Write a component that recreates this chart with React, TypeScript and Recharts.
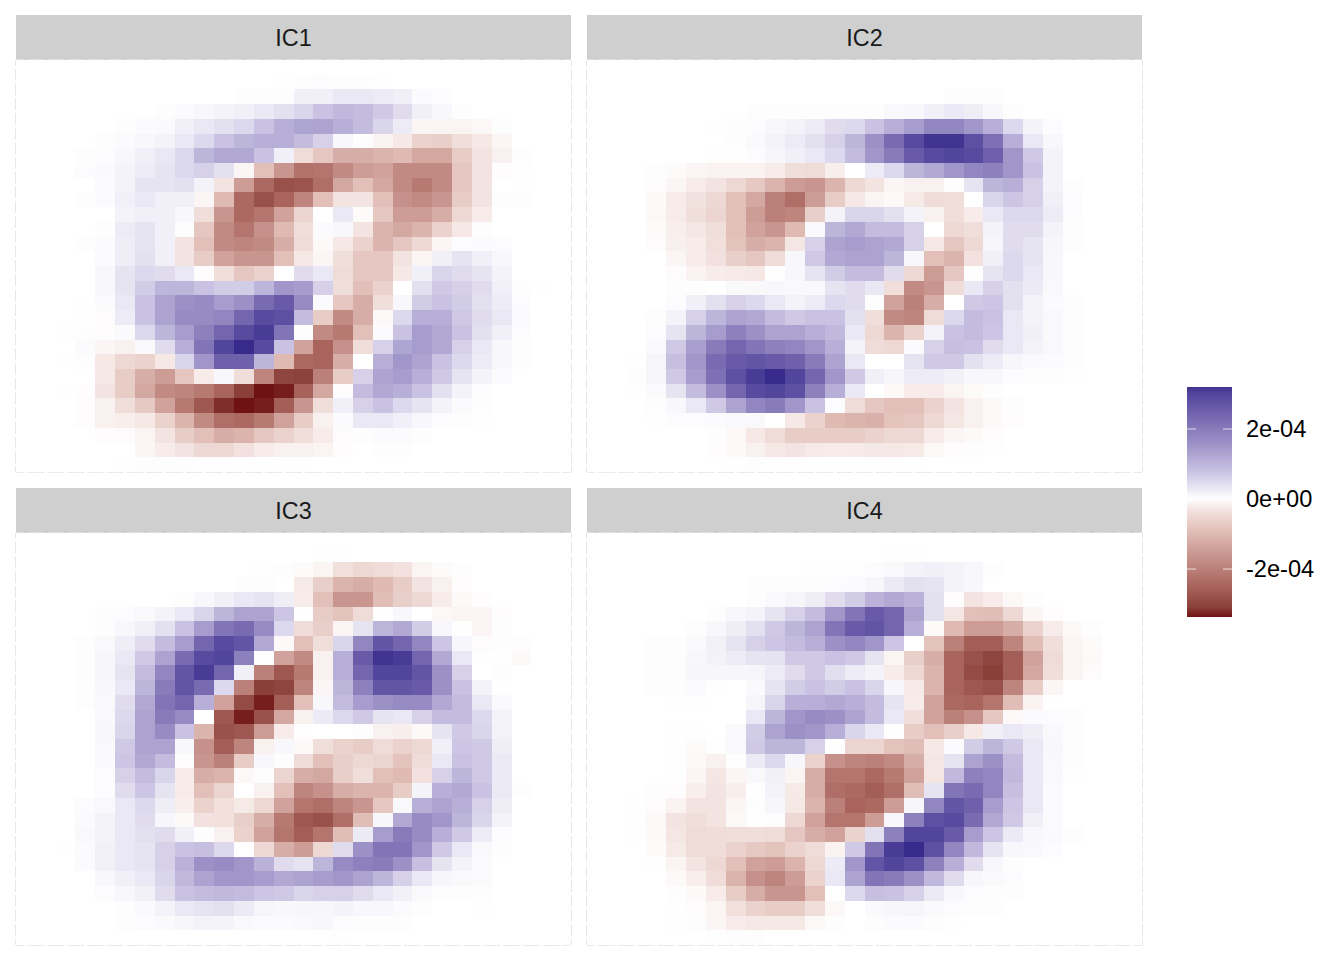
import React from "react";
import {
  ScatterChart,
  Scatter,
  XAxis,
  YAxis,
  ReferenceLine,
  ReferenceArea,
} from "recharts";

// all values in units of 1e-5
const BLANK = [0,0,0,0,0,0,0, 0,0,0,0,0,0,0, 0,0,0,0,0,0,0, 0,0,0,0,0,0,0];

const ic1 = [
  BLANK,
  [0,0,0,0,0,0,0, 0,0,0,0,0,0,.1, .3,.4,.3,.3,.1,0,0, 0,0,0,0,0,0,0],
  [0,0,0,0,0,0,0, 0,0,0,0,.3,.3,.3, 2,2,3,3,2.5,2,.6, .4,0,0,0,0,0,0],
  [0,0,0,0,0,0,0, .2,.5,1,1.5,2,3,4, 5.5,8,9.5,9,7,4.5,2, 1,.2,0,0,0,0,0],
  [0,0,0,0,0,.3,.5, .7,2,3,4,5,8,11, 12.5,13,11,9,5.5,2.5,-1, -1.2,-1.2,-.8,-.2,0,0,0],
  [0,0,0,0,.3,.5,1, 1.5,3,5,8,10,11,11, 9,6,1,.2,-1.3,-2.5,-6, -6.5,-4,-2.5,-1,0,0,0],
  [0,0,0,.3,.4,1,2, 3,5,10,12,12,8,2, -4.5,-8,-12,-12,-11,-10,-13, -13,-7,-3,-1.5,-.2,0,0],
  [0,0,0,.4,.7,1.5,2.5, 3.5,5,6,4,-1,-9,-16, -22.5,-22,-18,-15,-14,-18,-18, -18,-8,-3,-.3,-.1,0,0],
  [0,0,0,0,.5,1.5,3.5, 3.5,4,1.5,-3,-15,-24,-28, -27.5,-23,-13,-9,-13,-18,-21, -18,-8,-3,0,.1,0,0],
  [0,0,0,.2,.5,2,3, 2,2,-1,-10,-24,-28,-25, -19,-9,-3,-3,-9,-17,-18, -16,-7,-3,.2,.2,0,0],
  [0,0,0,0,0,1.5,2, 2,1,-4,-16,-24,-22,-14, -5.5,0,3,-.5,-8,-15,-15, -12,-5,-2,0,0,0,0],
  [0,0,0,0,.3,2.5,3.5, 2,-.2,-8,-18,-22,-17,-10, -4,.5,1,-3,-11,-13,-11, -6,-2.5,-.2,0,0,0,0],
  [0,0,0,.2,.5,2.3,3.5, 2,-3,-9,-18,-19,-18,-12, -4.5,-.7,-2.5,-6,-11,-8,-5, -1,.4,.5,.4,0,0,0],
  [0,0,0,0,.5,2.3,4, 2,-3,-7,-14,-16,-16,-9, -2.5,-1,-4,-8,-8,-3,-1, 2,3.5,2,1,0,0,0],
  [0,0,0,0,1,3.5,5, 4.5,3,-.3,-4,-8,-6,0, 4.5,3,-4.5,-8,-8,-2.5,2, 5.5,4.5,3.5,1.5,0,0,0],
  [0,0,0,0,1,3.5,6.5, 10,10,8,6.5,6.5,10,15, 14,6,-4,-9,-6,0,4, 7,6,4.5,2,.3,.1,0],
  [0,0,0,.1,.5,3,8, 13,16,17,14,16,23,26, 17,.5,-8,-12,-4,1,6.5, 8,6.5,4,2.5,.4,0,0],
  [0,0,0,.1,-.4,2.5,8, 13,17,17,18,24,29,28, 9,-7,-18,-12,-.8,5,11, 11,7,4.5,3,.6,0,0],
  [0,0,.1,.2,-.3,.7,5, 10,14,19,24,29,31,21, -.2,-18,-21,-9,.5,8,14, 12,8,4,2,.4,0,0],
  [0,0,0,.5,-1,-1.5,.7, 4.5,11,21,30,33,29,8, -14,-25,-17,-4,6,12.5,14, 12,6,3,1,.3,0,0],
  [0,0,.1,.3,-2.5,-5,-6, -2.5,5.5,15,25,25,10,-10, -24,-25,-12,0,11,15,13, 8,5,2.5,1,.3,0,0],
  [0,0,0,0,-2.5,-7,-12, -15,-8,-2,1,-4,-19,-30, -30.5,-20,-7,6,13,14,11, 7,3.5,1.5,.6,0,0,0],
  [0,0,.1,-.3,-3,-7,-13, -18,-19,-21,-25,-31,-34,-33, -25.5,-13,-.3,9,12,11,8, 4,1.5,.4,0,0,0,0],
  [0,0,0,-.3,-1.5,-4,-7.5, -14,-21,-27,-32,-34,-33,-26, -16,-4,2,6,8,5,3.5, 1.5,.5,.3,0,0,0,0],
  [0,0,0,-.3,-1.5,-1.8,-2.5, -6,-11,-18,-23,-24,-21,-14, -7,-1.5,.5,3,3,2,1, .4,.2,.1,0,0,0,0],
  [0,0,0,0,-.3,-.4,-1.2, -3,-7,-9,-12,-11,-8,-6, -4,-2,-.4,.2,.5,.6,.2, 0,0,0,0,0,0,0],
  [0,0,0,0,0,0,-1, -2,-3,-5,-5,-3.5,-2,-1.5, -1.5,-1.2,-.3,0,.3,.3,0, 0,0,0,0,0,0,0],
  [0,0,0,0,0,-.1,-.2, -.2,-.2,-.1,-.1,-.1,-.1,-.1, -.1,0,0,0,0,0,0, 0,0,0,0,0,0,0],
];

const ic2 = [
  BLANK,
  BLANK,
  [0,0,0,0,0,0,0, 0,0,0,0,0,0,0, 0,0,0,0,.3,.3,.3, 0,0,0,0,0,0,0],
  [0,0,0,0,0,0,0, 0,.2,.3,.3,.3,.3,.3, .3,.8,1,2,2.8,2.3,1, .3,0,0,0,0,0,0],
  [0,0,0,0,0,0,.1, .3,.4,1,1.5,2.5,4.5,5, 8,11,14,18,18,15,11, 5,1.5,.4,0,0,0,0],
  [0,0,0,0,0,0,0, .3,.7,1.5,2.5,4,6,10, 16,23,29,32,32,28,22, 11,3,1,0,0,0,0],
  [0,0,0,0,0,0,-.1, .1,.4,1.2,2,3,5,9, 15,20,26,29,30,29,25, 15,7,1.5,0,0,0,0],
  [0,0,0,-.2,-.5,-1,-1.3, -1.3,-1.3,-2,-4,-4.5,-1.7,0, 2.5,5,10,12,15,18,19, 15,8,1.5,0,0,0,0],
  [0,0,0,-.3,-1,-2,-3, -5,-7.5,-11,-15,-16,-11,-5, -3,-1,-1.5,-1.5,.2,3.5,10, 11,6,1.5,.3,0,0,0],
  [0,0,0,-.7,-2,-3.3,-5, -9,-13,-20,-23,-15,-7,-2.5, -1.2,-.7,-2.3,-4.5,-4,0,5.5, 7.5,6,2,.4,0,0,0],
  [0,0,0,-.8,-2,-4,-5.5, -9,-15,-20,-19,-6.5,1.5,5.5, 5.5,4,1.5,-1.5,-4,-2,3, 5,5,2.5,.4,0,0,0],
  [0,0,0,-.5,-1.7,-2.7,-4, -9,-14,-16,-10,.8,10,12, 9,9,6,0,-5,-4,1.5, 4.5,4.5,1.5,.3,0,0,0],
  [0,0,0,-.4,-1.6,-2,-3.8, -8.5,-12,-11,-2.7,6,13,14, 13,12,6,-2.5,-8,-5,1.2, 4.5,3.5,1.2,.2,0,0,0],
  [0,0,0,0,-1,-2,-3.5, -6.5,-8,-4.5,1,7,12,13, 13,10,1,-9,-11,-3.5,2, 5,3.5,1,0,0,0,0],
  [0,0,0,0,-.4,-1.3,-2, -2.3,-2.5,-.1,1,3.5,6.5,9, 9,4.5,-5,-15,-8,-.1,3.5, 5,3,1,0,0,0,0],
  [0,0,0,0,-.2,-.2,0, .8,.8,1,.8,.8,3.5,4.5, 3,-4,-18,-16,-4.5,3,6, 4,2.5,.8,0,0,0,0],
  [0,0,0,0,.4,2,4, 6,5,3,1.5,2.5,5,4.5, -.2,-14,-20,-12,0,7,7.5, 4,1.5,.6,.3,0,0,0],
  [0,0,0,.3,1.5,6,10, 13,12,9,7,8,8,4, -4,-18,-19,-4.5,5,9,8, 3,1.5,.8,.3,0,0,0],
  [0,0,0,.4,3.5,10,14, 19,16,13,13,11,9.5,3, -5,-11,-6,1.5,8,9,7.5, 3,2,.8,.3,0,0,0],
  [0,0,0,.8,7,13.5,20, 24,21,19,18,15,11,1.5, -4.5,-5,.6,6,8.5,8,4.5, 3,1.5,.8,.3,0,0,0],
  [0,0,.1,1.3,8.5,15,23, 26,27,26,25,20,13,3, 0,0,3.5,7,7,4,2.5, 1.2,.7,.6,.2,0,0,0],
  [0,0,.2,1.3,7,14,22, 28,31,33,30,24,15,7, 2,1.2,2.5,2.5,1.8,1,1, .4,.3,.2,.1,0,0,0],
  [0,0,.1,.6,3.5,9,16, 24,29,30,28,19,11,3, 0,-.7,-2,-2,-1.2,-.5,-.2, 0,0,0,0,0,0,0],
  [0,0,0,.2,1,3,7, 13,18,20,15,8,.4,-4.5, -8,-9,-9,-6,-3,-1.5,-.6, -.2,0,0,0,0,0,0],
  [0,0,0,.1,.4,.4,.5, .8,.8,0,-2.5,-6,-10,-11, -11.5,-8.5,-8,-5,-2.7,-1.5,-.7, -.3,0,0,0,0,0,0],
  [0,0,0,0,0,0,-.2, -.8,-2.5,-4.5,-7,-7,-7,-7, -6,-5,-5,-2,-1,-.6,-.3, 0,0,0,0,0,0,0],
  [0,0,0,0,0,0,-.3, -.7,-1.5,-2.5,-3,-2.3,-2,-2.2, -2.4,-2.5,-2.3,-.8,-.3,-.2,-.1, 0,0,0,0,0,0,0],
  [0,0,0,0,0,0,0, -.1,-.2,-.1,-.1,-.1,-.1,-.1, -.1,-.1,-.1,0,0,0,0, 0,0,0,0,0,0,0],
];

const ic3 = [
  BLANK,
  [0,0,0,0,0,0,0, 0,0,0,0,0,0,0, 0,-.1,-.1,0,0,0,0, 0,0,0,0,0,0,0],
  [0,0,0,0,0,0,0, 0,0,0,0,0,-.1,-.2, -.5,-1.2,-3.8,-5,-4.5,-3.5,-1.2, -.5,-.2,0,0,0,0,0],
  [0,0,0,0,0,0,0, 0,0,0,0,.2,.2,0, -2.3,-6.5,-11,-12,-10,-7,-3, -1.5,-.3,0,0,0,0,0],
  [0,0,0,0,0,0,0, 0,.2,1,2,3,3.5,2.2, -2,-9,-16,-16,-9.5,-6.5,-5, -2,-.7,-.3,0,0,0,0],
  [0,0,0,0,.3,.4,.8, 1.5,3,5.5,10,13,13,7.5, -.1,-7,-8.5,-4.5,-.1,1,0, -.8,-1.2,-1,-.3,0,0,0],
  [0,0,0,0,.3,1,2, 4,8,14,21,23,17,5, -4.5,-6.5,-1,3.5,10,12,6.5, 1,-.1,-1,-.2,0,0,0],
  [0,0,0,.2,.8,2.3,4.5, 9,14,24,29,27,12,-.6, -9,-4,5.5,18,27,24,18, 7.5,1.2,-.4,-.2,-.2,0,0],
  [0,0,0,.3,1.2,3,7, 13,23,29,30,19,.1,-14, -18,-1.5,11,26,32,31,24, 12,3,-.1,-.1,-.6,0,0],
  [0,0,0,.3,1.2,3.5,9, 18,27,31,24,2,-20,-27, -21,-1.5,11,24,30,30,27, 16,6,0,-.2,0,0,0],
  [0,0,0,.2,1,3,10, 20,27,23,5,-20,-31,-30, -19,-1,10,19,27,27,26, 16,8,1.5,-.1,0,0,0],
  [0,0,0,.2,.8,4.5,12, 21,24,11,-14,-29,-33,-26, -9,1,9,14,16,17,17, 12,9,3,.7,0,0,0],
  [0,0,0,0,.8,5,13, 20,17,0,-27,-33,-28,-13, -1.5,2.7,5,7,3.5,3,6, 9,9,5,1.5,0,0,0],
  [0,0,0,0,1,5.5,13, 17,8,-11,-28,-27,-15,-2, -.1,0,0,-.2,-1.5,-1.7,-.6, 3.5,7,5.5,1.7,0,0,0],
  [0,0,0,0,.8,7,13, 13,1,-17,-26,-19,-1.5,1, -.7,-4,-6,-7,-4.5,-6,-5, 2,7.5,7,2.3,0,0,0],
  [0,0,0,0,.7,7.5,12, 9,-.3,-16,-20,-7,1,-.2, -4.5,-9,-6.5,-5,-5.5,-8.5,-4.5, 3,8,7,2.7,0,0,0],
  [0,0,0,0,.4,6,9, 5.5,-2,-12,-11,-.8,.3,-5.5, -12,-13,-6.5,-4,-9,-10,-3.5, 6,10,7,2.7,0,0,0],
  [0,0,0,0,.4,4.5,7.5, 3.5,-2,-9,-5.5,0,-1.5,-9, -19,-17,-12,-11,-11,-7,1.5, 11,12,8,2.7,.2,0,0],
  [0,0,0,.4,.8,3,5, 2.3,-1.7,-6,-3.7,-2.3,-5,-14, -22,-23,-19,-16,-8,.8,11, 13,11,6,2.3,0,0,0],
  [0,0,0,.5,1.5,3,4.5, 1.2,-.7,-3.5,-3.7,-6.5,-12,-21, -27,-28,-23,-9.5,1.2,12,17, 15,10,5.5,1.5,0,0,0],
  [0,0,0,.8,1.5,3,4, 4.5,2,.3,-1.5,-6,-14,-22, -26,-22,-9.5,2.7,14,20,17, 11,7,2.5,.4,0,0,0],
  [0,0,.1,.5,1.8,3,3.5, 6,8,8.5,5,0,-5,-12, -15,-5,4.5,16,21,21,15, 7,3,.8,.3,0,0,0],
  [0,0,0,.5,1.8,3,3.5, 6,10.5,16,17,15,10.5,4.5, 3.5,10,17,19,20,16,8.5, 3.5,1.5,.5,0,0,0,0],
  [0,0,0,0,1,2,3, 5.5,9.5,13,15,15,14,12, 13,14,15,13,10,6,3, 1.2,.8,.6,0,0,0,0],
  [0,0,0,0,.4,1,1.8, 4.5,8,9,9.5,9,7.5,7, 5.5,6,6,4.5,3,1.8,.8, .3,.2,.2,0,0,0,0],
  [0,0,0,0,0,.3,.7, 1.5,3,3.5,4,2.7,1.3,1, 1.2,1.2,1.5,1,1,.6,.3, 0,0,.1,0,0,0,0],
  [0,0,0,0,0,.2,.4, .7,1.2,1.7,1.5,.8,.6,.6, .9,1,.4,.3,.3,.2,0, 0,0,0,0,0,0,0],
  [0,0,0,0,0,0,0, 0,0,0,0,0,0,0, 0,0,.1,0,0,0,0, 0,0,0,0,0,0,0],
];

const ic4 = [
  BLANK,
  [0,0,0,0,0,0,0, 0,0,0,0,0,0,0, 0,.1,.1,0,0,0,0, 0,0,0,0,0,0,0],
  [0,0,0,0,0,0,0, 0,0,0,0,.1,.1,.1, .4,.8,1.5,2,1.5,1,.3, 0,0,0,0,0,0,0],
  [0,0,0,0,0,0,0, 0,.2,.3,.3,.3,.4,.5, 1.2,2.7,4,3.5,1.5,1,0, 0,0,0,0,0,0,0],
  [0,0,0,0,0,0,0, 0,.3,.7,1.3,2.3,4.5,6.5, 10.5,12,10.5,4,-.3,-3,-2, -.8,-.2,0,0,0,0,0],
  [0,0,0,0,0,0,.3, 1,1.5,3.5,6,9,15,21, 26,24,13,4,-2.7,-9,-9.5, -5,-1,-.3,0,0,0,0],
  [0,0,0,0,0,.2,1, 2.3,4,7,10,13,21,26, 27,24,11,-.5,-10,-15,-15, -12,-6,-2,-.7,-.2,0,0],
  [0,0,0,.2,.3,.7,1.8, 3.5,6,7.5,9,11,16,18, 15,7.5,0,-8.5,-20,-26,-26, -19,-9.5,-4,-1,-.5,0,0],
  [0,0,0,.2,.3,1,1.7, 2.5,3.5,3.8,7,7,8,7, 3.5,-1.2,-6.5,-12,-25,-28,-30, -26,-14,-4.5,-1.2,-.7,0,0],
  [0,0,0,.3,.3,1.2,1.2, 1.2,1.3,2.5,4.5,7,4.3,2.5, 1.5,-2,-5,-11,-25,-29,-31, -26,-13,-4,-1.2,-.4,0,0],
  [0,0,0,.2,.2,.5,-.1, 0,.7,3.5,6.5,8,6.5,8, 5.5,1.2,-2.3,-11,-25,-27,-28, -19,-7,-1,0,0,0,0],
  [0,0,0,0,.1,.1,0, 0,1.3,5.5,11,11,12,11, 9,3.5,-2,-14,-24,-25,-22, -9.5,-1.3,.1,0,0,0,0],
  [0,0,0,0,0,0,0, 0,3,10,15,17,16,13, 9,3,-4,-14,-20,-17,-8, -.8,.6,.4,.2,0,0,0],
  [0,0,0,0,-.1,-.1,0, .8,6.5,13,16,15,11,5.5, 3,-.1,-7,-9,-6.5,-2.5,2, 3,2.3,.8,.2,0,0,0],
  [0,0,0,0,-.1,-.5,-.1, .9,7,10,10,6,-.1,-5.5, -5.5,-8.5,-9.5,-2.5,.5,6.5,10, 7,3,1,.2,0,0,0],
  [0,0,0,0,-.1,-.6,-1.5, -.1,2.7,5,1.2,-6,-17,-19, -20,-18,-12,-2.7,3.5,13,16, 9,3,.8,.2,0,0,0],
  [0,0,0,0,-.1,-1,-2.7, -1,.8,2,-1.2,-12,-22,-22, -24,-21,-14,-2.7,9.5,19,18, 9.5,3,.8,.1,0,0,0],
  [0,0,0,-.2,-.3,-1.7,-3, -1.7,.1,1.5,-2.3,-12,-23,-24, -26,-23,-9.5,3.5,21,23,18, 8.5,3,.6,0,0,0,0],
  [0,0,-.1,-.4,-1.3,-3,-3, -1,.3,1.2,-2.4,-11,-20,-25, -24,-15,1.2,18,27,25,14, 7.5,3,.6,0,0,0,0],
  [0,0,-.1,-.8,-3,-4,-3, -.8,-.1,.2,-5,-14,-22,-22, -15,1,19,28,29,23,12, 7,2,.5,0,0,0,0],
  [0,0,-.1,-.7,-2.7,-4.5,-4.3, -4,-4,-4.5,-8,-12,-14,-6, 4,19,30,30,26,14,7.5, 2.7,1,.7,.3,0,0,0],
  [0,0,0,-.5,-2.3,-4.5,-4.3, -6,-7.5,-8.5,-6,-4.5,-1.3,7, 21,31,33,28,18,9.5,3.5, 1,.8,.4,0,0,0,0],
  [0,0,0,-.1,-1.2,-3,-5, -9,-14,-15,-11,-5,2.5,15, 27,30,28,19,11,4.5,1.2, .3,0,0,0,0,0,0],
  [0,0,0,0,-.6,-1.7,-4.3, -11,-17,-19,-15,-6,3,13, 21,20,16,9.5,4.5,1.2,.7, .4,0,0,0,0,0,0],
  [0,0,0,0,-.2,-.6,-2, -7,-12,-16,-16,-9,0,5, 8.5,8,6,2.7,1,.4,.3, .2,0,0,0,0,0,0],
  [0,0,0,0,-.1,-.4,-1.2, -3.8,-6,-7,-7,-4,-.8,0, .7,1.2,1.3,.7,.4,.3,.2, 0,0,0,0,0,0,0],
  [0,0,0,0,-.1,-.2,-1, -2,-2.5,-2.5,-2.5,-.8,-.2,0, .3,.6,.6,.3,.1,0,0, 0,0,0,0,0,0,0],
  [0,0,0,0,0,0,-.1, -.2,-.2,0,0,0,0,0, 0,0,0,0,0,0,0, 0,0,0,0,0,0,0],
];

const legendTicks = [20, 0, -20];
const legendLabels: Record<number, string> = { 20: "2e-04", 0: "0e+00", "-20": "-2e-04" };

const GRID = 28;
const PANEL_W = 555;
const PANEL_H = 412;
const CELL_W = PANEL_W / GRID;
const CELL_H = PANEL_H / GRID;
const FONT = '"Liberation Sans", Arial, sans-serif';
const LIMIT = 33.7;
const LEGEND_TOP = 32;
const LEGEND_BOTTOM = -33.7;

const blueStops: [number, number[]][] = [
  [0, [255, 255, 255]],
  [0.08, [236, 234, 245]],
  [0.22, [204, 198, 228]],
  [0.445, [160, 150, 201]],
  [0.74, [111, 96, 172]],
  [0.89, [82, 69, 156]],
  [1, [50, 36, 134]],
];
const redStops: [number, number[]][] = [
  [0, [255, 255, 255]],
  [0.08, [244, 230, 227]],
  [0.24, [229, 197, 191]],
  [0.445, [204, 156, 149]],
  [0.74, [168, 100, 93]],
  [0.92, [138, 63, 57]],
  [1, [111, 18, 22]],
];

const colorFor = (v: number) => {
  const stops = v >= 0 ? blueStops : redStops;
  const t = Math.min(Math.abs(v) / LIMIT, 1);
  let i = 1;
  while (i < stops.length - 1 && stops[i][0] < t) i++;
  const [t0, c0] = stops[i - 1];
  const [t1, c1] = stops[i];
  const k = (t - t0) / (t1 - t0);
  const c = c0.map((a, j) => Math.round(a + (c1[j] - a) * k));
  return `rgb(${c[0]},${c[1]},${c[2]})`;
};

const HeatCell = (props: any) => {
  const { cx, cy, payload } = props;
  return (
    <rect
      x={cx - CELL_W / 2}
      y={cy - CELL_H / 2}
      width={CELL_W}
      height={CELL_H}
      fill={colorFor(payload.value)}
      shapeRendering="crispEdges"
    />
  );
};

const borderProps = { stroke: "#e3e3e3", strokeWidth: 1.7, ifOverflow: "visible" as const };
const DASH_W = `${CELL_W - 3} 3`;
const DASH_H = `${CELL_H - 3} 3`;
const OFFSET_W = (CELL_W - 3) / 2;
const OFFSET_H = (CELL_H - 3) / 2;

const Panel = ({ title, values, left, top }: { title: string; values: number[][]; left: number; top: number }) => {
  const data = values.flatMap((row, r) =>
    row.map((value, c) => ({ col: c + 0.5, row: r + 0.5, value }))
  );
  return (
    <>
      <div
        style={{
          position: "absolute",
          left,
          top: top - 45,
          width: PANEL_W,
          height: 45,
          background: "#cfcfcf",
          color: "#1a1a1a",
          fontFamily: FONT,
          fontSize: 23.4,
          lineHeight: "46px",
          textAlign: "center",
        }}
      >
        {title}
      </div>
      <div style={{ position: "absolute", left: left - 2, top: top - 2 }}>
        <ScatterChart
          width={PANEL_W + 4}
          height={PANEL_H + 4}
          margin={{ top: 2, right: 2, bottom: 2, left: 2 }}
        >
          <XAxis type="number" dataKey="col" domain={[0, GRID]} hide />
          <YAxis type="number" dataKey="row" domain={[0, GRID]} reversed hide />
          <Scatter data={data} isAnimationActive={false} shape={HeatCell} />
          <ReferenceLine x={0} strokeDasharray={DASH_H} strokeDashoffset={OFFSET_H} {...borderProps} />
          <ReferenceLine x={GRID} strokeDasharray={DASH_H} strokeDashoffset={OFFSET_H} {...borderProps} />
          <ReferenceLine y={0} strokeDasharray={DASH_W} strokeDashoffset={OFFSET_W} {...borderProps} />
          <ReferenceLine y={GRID} strokeDasharray={DASH_W} strokeDashoffset={OFFSET_W} {...borderProps} />
        </ScatterChart>
      </div>
    </>
  );
};

const LegendTick = (props: any) => {
  const { cx, cy } = props;
  return (
    <g stroke="#ffffff" strokeOpacity={0.75} strokeWidth={1}>
      <line x1={cx - 22.5} x2={cx - 13.5} y1={cy} y2={cy} />
      <line x1={cx + 13.5} x2={cx + 22.5} y1={cy} y2={cy} />
    </g>
  );
};

const ColorBar = () => {
  const gradientStops = [
    ...blueStops.filter((s) => s[0] * LIMIT <= LEGEND_TOP).reverse().map((s) => s[0] * LIMIT),
    ...redStops.filter((s) => s[0] > 0).map((s) => -s[0] * LIMIT),
  ];
  const span = LEGEND_TOP - LEGEND_BOTTOM;
  return (
    <div style={{ position: "absolute", left: 1187, top: 387 }}>
      <ScatterChart width={145} height={230} margin={{ top: 0, right: 0, bottom: 0, left: 0 }}>
        <defs>
          <linearGradient id="icBar" x1="0" y1="0" x2="0" y2="1">
            <stop offset="0" stopColor={colorFor(LEGEND_TOP)} />
            {gradientStops.map((v) => (
              <stop key={v} offset={(LEGEND_TOP - v) / span} stopColor={colorFor(v)} />
            ))}
          </linearGradient>
        </defs>
        <XAxis type="number" dataKey="x" domain={[0, 1]} hide />
        <YAxis
          type="number"
          dataKey="y"
          orientation="right"
          domain={[LEGEND_BOTTOM, LEGEND_TOP]}
          ticks={legendTicks}
          width={100}
          axisLine={false}
          tickLine={false}
          tickSize={0}
          tickMargin={14}
          interval={0}
          tickFormatter={(v: number) => legendLabels[v]}
          tick={{ fill: "#000000", fontFamily: FONT, fontSize: 23.6 }}
        />
        <ReferenceArea x1={0} x2={1} y1={LEGEND_BOTTOM} y2={LEGEND_TOP} fill="url(#icBar)" fillOpacity={1} stroke="none" />
        <Scatter
          data={legendTicks.map((y) => ({ x: 0.5, y }))}
          isAnimationActive={false}
          shape={LegendTick}
        />
      </ScatterChart>
    </div>
  );
};

const App = () => (
  <div style={{ position: "absolute", left: 0, top: 0, width: 1344, height: 960, background: "#ffffff" }}>
    <Panel title="IC1" values={ic1} left={16} top={60} />
    <Panel title="IC2" values={ic2} left={587} top={60} />
    <Panel title="IC3" values={ic3} left={16} top={533} />
    <Panel title="IC4" values={ic4} left={587} top={533} />
    <ColorBar />
  </div>
);

export default App;
